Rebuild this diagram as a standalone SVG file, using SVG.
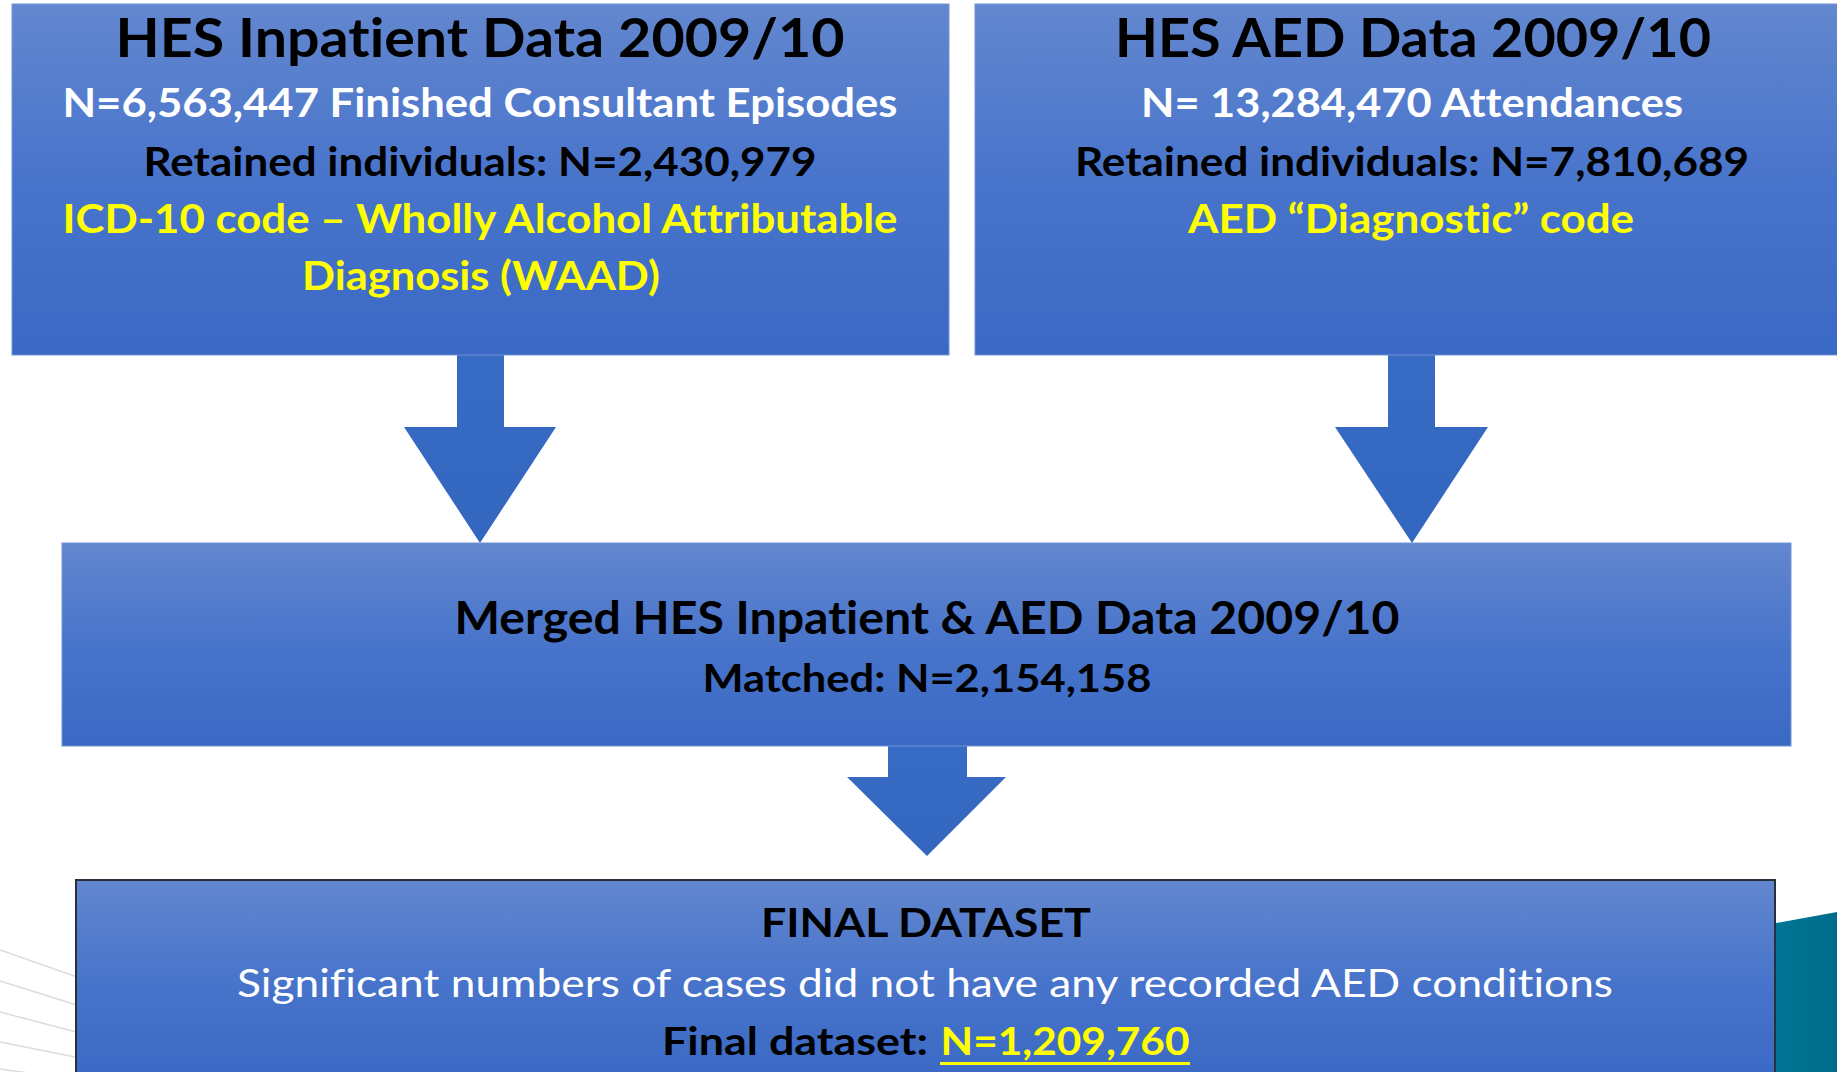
<svg xmlns="http://www.w3.org/2000/svg" width="1837" height="1072" viewBox="0 0 1837 1072">
<defs>
<linearGradient id="boxGrad" x1="0" y1="0" x2="0" y2="1">
<stop offset="0" stop-color="#6387cf"/>
<stop offset="0.5" stop-color="#4874cb"/>
<stop offset="1" stop-color="#3a69c4"/>
</linearGradient>
<linearGradient id="arrowGrad" x1="0" y1="0" x2="0" y2="1">
<stop offset="0" stop-color="#386bc4"/>
<stop offset="1" stop-color="#3366bf"/>
</linearGradient>
<linearGradient id="tealGrad" x1="0" y1="0" x2="1" y2="0">
<stop offset="0" stop-color="#007896"/>
<stop offset="1" stop-color="#006c8c"/>
</linearGradient>
<style>
.box{fill:url(#boxGrad);stroke:#7393d6;stroke-width:1}
.final{fill:url(#boxGrad);stroke:#2a2f3c;stroke-width:2}
.arrow{fill:url(#arrowGrad)}
.t{font-family:Lato,"Open Sans","Liberation Sans",sans-serif;font-weight:bold;text-anchor:middle;font-variant-ligatures:none;font-feature-settings:"liga" 0,"clig" 0,"dlig" 0}
.big{font-size:53px}
.mtitle{font-size:46px}
.mid{font-size:41px}
.sm{font-size:39px}
.blk{fill:#000}
.wht{fill:#fff}
.yel{fill:#ffff00}
.reg{font-weight:normal}
.deco{stroke:#dcdcdc;stroke-width:1.5;fill:none}
</style>
</defs>
<rect width="1837" height="1072" fill="#fff"/>
<g id="decoration">
<line class="deco" x1="0" y1="950" x2="80" y2="978"/>
<line class="deco" x1="0" y1="981" x2="80" y2="1006"/>
<line class="deco" x1="0" y1="1012" x2="80" y2="1033"/>
<line class="deco" x1="0" y1="1042" x2="80" y2="1058"/>
<line class="deco" x1="0" y1="1069" x2="80" y2="1080"/>
<polygon points="1760,926 1837,912 1837,1072 1760,1072" fill="url(#tealGrad)"/>
</g>
<g id="connectors">
<polygon class="arrow" points="457,355 504,355 504,427 556,427 480,543 404,427 457,427"/>
<polygon class="arrow" points="1388,355 1435,355 1435,427 1488,427 1412,543 1335,427 1388,427"/>
<polygon class="arrow" points="888,746 967,746 967,777 1006,777 927,856 847,777 888,777"/>
</g>
<g id="inpatient">
<rect class="box" x="12" y="4" width="937" height="351"/>
<text class="t big blk" x="480" y="57" textLength="729" lengthAdjust="spacingAndGlyphs">HES Inpatient Data 2009/10</text>
<text class="t mid wht" x="480" y="117" textLength="835" lengthAdjust="spacingAndGlyphs">N=6,563,447 Finished Consultant Episodes</text>
<text class="t mid blk" x="480" y="176" textLength="673" lengthAdjust="spacingAndGlyphs">Retained individuals: N=2,430,979</text>
<text class="t mid yel" x="480" y="233" textLength="835" lengthAdjust="spacingAndGlyphs">ICD-10 code – Wholly Alcohol Attributable</text>
<text class="t mid yel" x="481" y="290" textLength="358" lengthAdjust="spacingAndGlyphs">Diagnosis (WAAD)</text>
</g>
<g id="aed">
<rect class="box" x="975" y="4" width="876" height="351"/>
<text class="t big blk" x="1413" y="57" textLength="596" lengthAdjust="spacingAndGlyphs">HES AED Data 2009/10</text>
<text class="t mid wht" x="1412" y="117" textLength="542" lengthAdjust="spacingAndGlyphs">N= 13,284,470 Attendances</text>
<text class="t mid blk" x="1412" y="176" textLength="674" lengthAdjust="spacingAndGlyphs">Retained individuals: N=7,810,689</text>
<text class="t mid yel" x="1411" y="233" textLength="446" lengthAdjust="spacingAndGlyphs">AED “Diagnostic” code</text>
</g>
<g id="merged">
<rect class="box" x="62" y="543" width="1729" height="203"/>
<text class="t mtitle blk" x="927" y="634" textLength="945" lengthAdjust="spacingAndGlyphs">Merged HES Inpatient &amp; AED Data 2009/10</text>
<text class="t sm blk" x="927" y="692" textLength="449" lengthAdjust="spacingAndGlyphs">Matched: N=2,154,158</text>
</g>
<g id="final">
<rect class="final" x="76" y="880" width="1699" height="200"/>
<text class="t mid blk" x="926" y="937" textLength="330" lengthAdjust="spacingAndGlyphs">FINAL DATASET</text>
<text class="t sm wht reg" x="925" y="997" textLength="1376" lengthAdjust="spacingAndGlyphs">Significant numbers of cases did not have any recorded AED conditions</text>
<text class="t sm blk" x="795" y="1055" textLength="266" lengthAdjust="spacingAndGlyphs">Final dataset:</text>
<text class="t sm yel" x="1065" y="1055" textLength="249" lengthAdjust="spacingAndGlyphs">N=1,209,760</text>
<rect x="940" y="1062" width="250" height="3" fill="#ffff00"/>
</g>
</svg>
